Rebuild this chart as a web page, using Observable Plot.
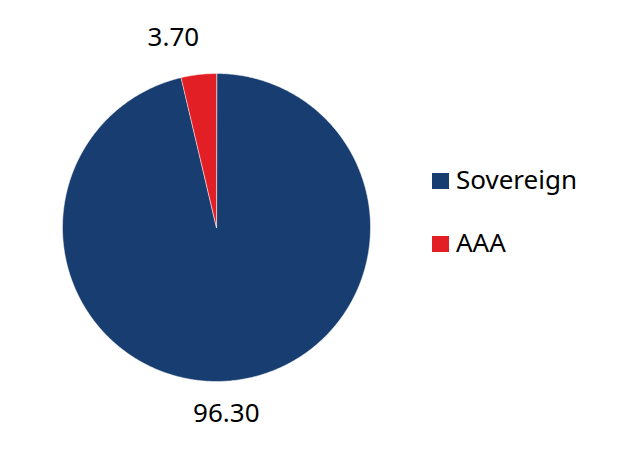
<!DOCTYPE html>
<html>
<head>
<meta charset="utf-8">
<script src="https://cdn.jsdelivr.net/npm/d3@7"></script>
<script src="https://cdn.jsdelivr.net/npm/@observablehq/plot@0.6"></script>
<style>
  body { margin: 0; background: #fff; font-family: "Noto Sans", sans-serif; }
  #wrap { position: relative; width: 635px; height: 460px; }
  .sw { position: absolute; width: 17px; height: 16px; }
  .lt { position: absolute; font-size: 26px; line-height: 26px; color: #000; white-space: nowrap; }
</style>
</head>
<body>
<div id="wrap"></div>
<script>
const categories = ["Sovereign", "AAA"];
const values = [96.30, 3.70];
const labels = ["96.30", "3.70"];
const colors = ["#183e71", "#e31f26"];

const pie = d3.pie().sort(null).value(d => d.value)(
  categories.map((c, i) => ({category: c, value: values[i], label: labels[i]}))
);

// Slice polygons derived from d3.pie angles (unit radius)
const pts = [];
for (const s of pie) {
  const c = s.data.category;
  pts.push({category: c, x: 0, y: 0});
  const n = Math.max(2, Math.ceil((s.endAngle - s.startAngle) / (Math.PI / 360)));
  for (let k = 0; k <= n; k++) {
    const a = s.startAngle + (s.endAngle - s.startAngle) * k / n;
    pts.push({category: c, x: Math.sin(a), y: Math.cos(a)});
  }
}

const labelPts = pie.map(s => {
  const a = (s.startAngle + s.endAngle) / 2;
  const r = s.data.category === "AAA" ? 1.24 : 1.22;
  return {category: s.data.category, label: s.data.label, x: r * Math.sin(a), y: r * Math.cos(a)};
});

const chart = Plot.plot({
  width: 635,
  height: 460,
  marginLeft: 62,
  marginRight: 265,
  marginTop: 73,
  marginBottom: 79,
  x: {domain: [-1, 1], axis: null},
  y: {domain: [-1, 1], axis: null},
  color: {domain: categories, range: colors},
  style: {fontFamily: "Noto Sans, sans-serif", background: "transparent"},
  marks: [
    Plot.line(pts, {x: "x", y: "y", z: "category", fill: "category", stroke: "#ffffff", strokeWidth: 0.5, curve: "linear-closed"}),
    Plot.text(labelPts.filter(d => d.category === "AAA"), {x: "x", y: "y", text: "label", fontSize: 26, fill: "#000", dx: -21, dy: 0, clip: false}),
    Plot.text(labelPts.filter(d => d.category === "Sovereign"), {x: "x", y: "y", text: "label", fontSize: 26, fill: "#000", dx: -12, dy: 0, clip: false})
  ]
});

const wrap = document.getElementById("wrap");
wrap.appendChild(chart);

// Legend
const legendRows = [{top: 173, textTop: 166}, {top: 236, textTop: 229}];
categories.forEach((c, i) => {
  const sw = document.createElement("div");
  sw.className = "sw";
  sw.style.left = "432px";
  sw.style.top = legendRows[i].top + "px";
  sw.style.background = colors[i];
  wrap.appendChild(sw);
  const t = document.createElement("div");
  t.className = "lt";
  t.style.left = "456px";
  t.style.top = legendRows[i].textTop + "px";
  t.textContent = c;
  wrap.appendChild(t);
});
</script>
</body>
</html>
